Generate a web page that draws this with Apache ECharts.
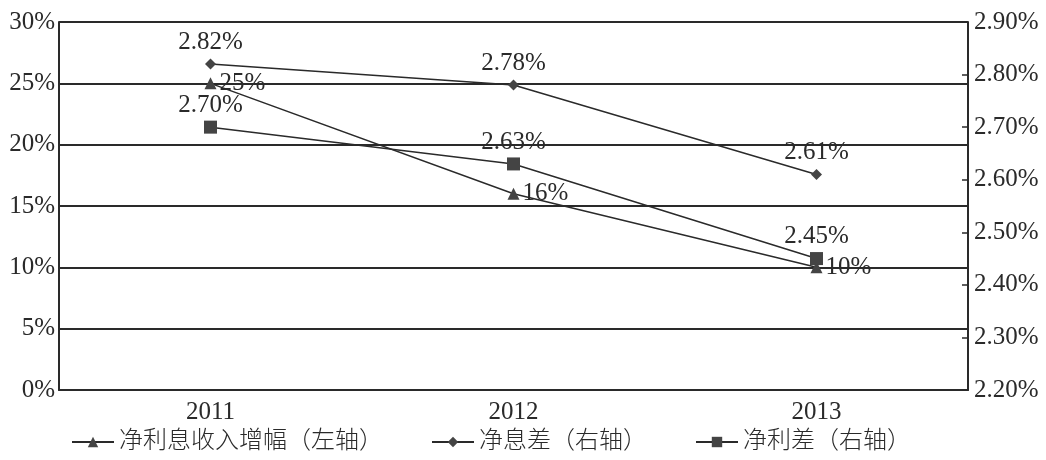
<!DOCTYPE html>
<html>
<head>
<meta charset="utf-8">
<script src="https://cdn.jsdelivr.net/npm/echarts@6/dist/echarts.min.js"></script>
<style>
html,body{margin:0;padding:0;background:#fff;}
#chart{width:1046px;height:460px;}
</style>
</head>
<body>
<div id="chart"></div>
<script>
// Years on the category axis
const years = ['2011', '2012', '2013'];
// Net interest income growth, % (left axis)
const incomeGrowth = [25, 16, 10];
// Net interest margin, % (right axis)
const netMargin = [2.82, 2.78, 2.61];
// Net interest spread, % (right axis)
const netSpread = [2.70, 2.63, 2.45];
// Axis tick labels
const leftTicks = ['0%', '5%', '10%', '15%', '20%', '25%', '30%'];
const rightTicks = ['2.20%', '2.30%', '2.40%', '2.50%', '2.60%', '2.70%', '2.80%', '2.90%'];

const serif = '"Liberation Serif", "DejaVu Serif", serif';
const cjk = '"Liberation Serif", "Noto Sans CJK SC", serif';
const ink = '#2a2a2a';
const fs = 25;

const chart = echarts.init(document.getElementById('chart'));
chart.setOption({
  animation: false,
  backgroundColor: '#fff',
  grid: { left: 59, right: 78, top: 22, bottom: 70 },
  legend: {
    bottom: 1,
    left: 66,
    itemGap: 48,
    itemWidth: 42,
    itemHeight: 13,
    textStyle: { fontFamily: cjk, fontSize: 24, color: ink, fontWeight: 300 },
    data: ['净利息收入增幅（左轴）', '净息差（右轴）', '净利差（右轴）']
  },
  xAxis: {
    type: 'category',
    data: years,
    boundaryGap: true,
    axisLine: { lineStyle: { color: ink, width: 2 } },
    axisTick: { inside: true, length: 6, lineStyle: { color: ink, width: 1.5 } },
    axisLabel: { fontFamily: serif, fontSize: fs, color: ink, margin: 10 }
  },
  yAxis: [
    {
      type: 'value', min: 0, max: 30, interval: 5, position: 'left',
      axisLine: { show: true, lineStyle: { color: ink, width: 2 } },
      axisTick: { show: false },
      splitLine: { lineStyle: { color: ink, width: 2 } },
      axisLabel: {
        fontFamily: serif, fontSize: fs, color: ink, margin: 4,
        formatter: v => leftTicks[Math.round(v / 5)]
      }
    },
    {
      type: 'value', min: 2.2, max: 2.9, interval: 0.1, position: 'right',
      axisLine: { show: true, lineStyle: { color: ink, width: 2 } },
      axisTick: { show: true, inside: true, length: 6, lineStyle: { color: ink, width: 1.5 } },
      splitLine: { show: false },
      axisLabel: {
        fontFamily: serif, fontSize: fs, color: ink, margin: 6,
        formatter: v => rightTicks[Math.round((v - 2.2) * 10)]
      }
    }
  ],
  series: [
    {
      name: '净利息收入增幅（左轴）',
      type: 'line', yAxisIndex: 0, data: incomeGrowth,
      symbol: 'triangle', symbolSize: 12,
      lineStyle: { color: ink, width: 1.5 },
      itemStyle: { color: '#444' },
      label: {
        show: true, position: 'right', distance: 3,
        fontFamily: serif, fontSize: fs, color: ink,
        formatter: p => p.value + '%'
      }
    },
    {
      name: '净息差（右轴）',
      type: 'line', yAxisIndex: 1, data: netMargin,
      symbol: 'diamond', symbolSize: 11,
      lineStyle: { color: ink, width: 1.5 },
      itemStyle: { color: '#444' },
      label: {
        show: true, position: 'top', distance: 4,
        fontFamily: serif, fontSize: fs, color: ink,
        formatter: p => p.value.toFixed(2) + '%'
      }
    },
    {
      name: '净利差（右轴）',
      type: 'line', yAxisIndex: 1, data: netSpread,
      symbol: 'rect', symbolSize: 13,
      lineStyle: { color: ink, width: 1.5 },
      itemStyle: { color: '#444' },
      label: {
        show: true, position: 'top', distance: 3,
        fontFamily: serif, fontSize: fs, color: ink,
        formatter: p => p.value.toFixed(2) + '%'
      }
    }
  ]
});
</script>
</body>
</html>
